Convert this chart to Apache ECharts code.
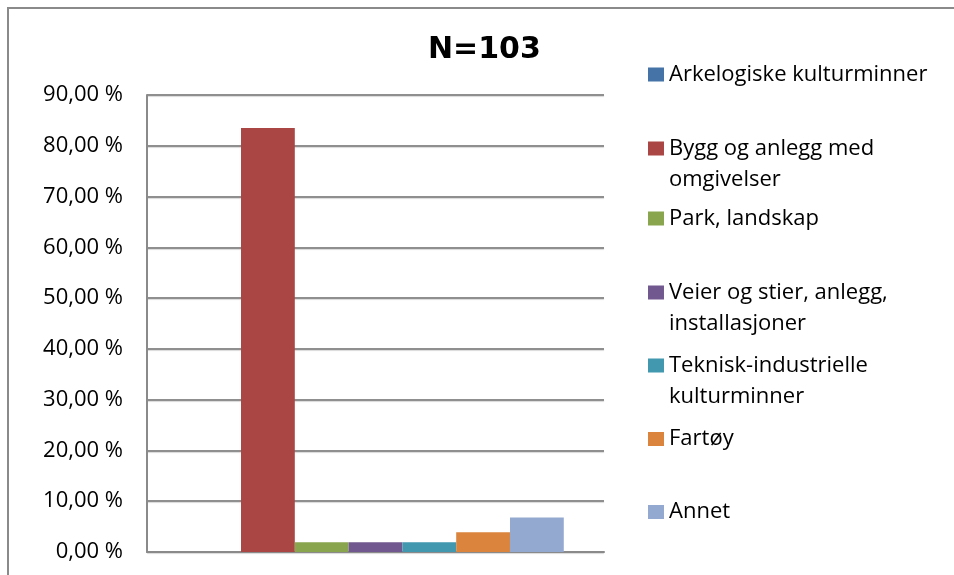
<!DOCTYPE html>
<html>
<head>
<meta charset="utf-8">
<script src="https://cdn.jsdelivr.net/npm/echarts@6/dist/echarts.min.js"></script>
<style>
html,body{margin:0;padding:0;background:#fff;}
#chart{width:954px;height:575px;}
</style>
</head>
<body>
<div id="chart"></div>
<script>
// ---- data ----
var titleText = 'N=103';
var categories = ['Andel'];
var seriesNames = [
  'Arkelogiske kulturminner',
  'Bygg og anlegg med\nomgivelser',
  'Park, landskap',
  'Veier og stier, anlegg,\ninstallasjoner',
  'Teknisk-industrielle\nkulturminner',
  'Fartøy',
  'Annet'
];
var seriesValues = [0, 83.50, 1.94, 1.94, 1.94, 3.88, 6.80];
var seriesColors = ['#4572A7', '#AA4643', '#89A54E', '#71588F', '#4198AF', '#DB843D', '#93A9CF'];
var yTicks = [0, 10, 20, 30, 40, 50, 60, 70, 80, 90];

// ---- chart ----
var chart = echarts.init(document.getElementById('chart'));
var font = '"Open Sans", "DejaVu Sans", sans-serif';
var legendTops = [74.5, 148.5, 218.5, 292.5, 365.5, 439, 512];
var lineH = 31;

var series = seriesNames.map(function (n, i) {
  return {
    name: n,
    type: 'bar',
    data: [seriesValues[i]],
    barGap: 0,
    barCategoryGap: '17.6%',
    itemStyle: { color: seriesColors[i] },
    emphasis: { disabled: true }
  };
});

var legends = seriesNames.map(function (n, i) {
  var twoLine = n.indexOf('\n') >= 0;
  return {
    data: [n],
    orient: 'vertical',
    left: 648,
    top: legendTops[i] - lineH / 2,
    padding: 0,
    itemWidth: 16,
    itemHeight: twoLine ? 45 : 14,
    icon: twoLine ? 'path://M0,0h16v14h-16Z M0,45h0.05v0.05h-0.05Z' : 'rect',
    selectedMode: false,
    textStyle: { fontFamily: font, fontSize: 22, color: '#000', lineHeight: lineH }
  };
});

chart.setOption({
  animation: false,
  backgroundColor: '#fff',
  title: {
    text: titleText,
    left: 428,
    top: 35,
    padding: 0,
    textStyle: { fontFamily: '"DejaVu Sans", sans-serif', fontWeight: 'bold', fontSize: 30, color: '#000' }
  },
  legend: legends,
  grid: { left: 147, right: 350, top: 95, bottom: 23, containLabel: false },
  xAxis: {
    type: 'category',
    data: categories,
    axisLine: { show: true, lineStyle: { color: '#8a8a8a', width: 2 } },
    axisTick: { show: false },
    axisLabel: { show: false },
    splitLine: { show: false }
  },
  yAxis: {
    type: 'value',
    min: yTicks[0],
    max: yTicks[yTicks.length - 1],
    interval: 10,
    axisLine: { show: true, lineStyle: { color: '#8a8a8a', width: 2 } },
    axisTick: { show: false },
    axisLabel: {
      margin: 24,
      fontFamily: font,
      fontSize: 22,
      color: '#000',
      formatter: function (v) { return v.toFixed(2).replace('.', ',') + ' %'; }
    },
    splitLine: { show: true, lineStyle: { color: '#8f8f8f', width: 2, shadowColor: 'rgba(0,0,0,0.15)', shadowOffsetY: 1, shadowBlur: 1 } }
  },
  graphic: [{
    type: 'polyline',
    shape: { points: [[8, 600], [8, 8], [960, 8]] },
    style: { fill: null, stroke: '#8a8a8a', lineWidth: 2 },
    silent: true,
    z: 10
  }],
  series: series
});
</script>
</body>
</html>
